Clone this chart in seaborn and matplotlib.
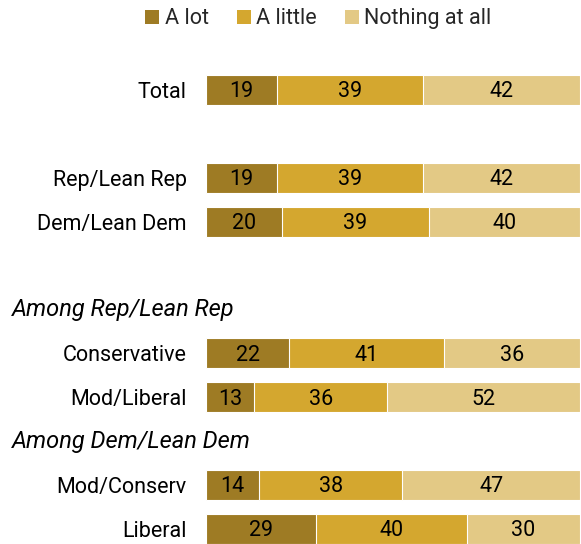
import pandas as pd
import matplotlib
matplotlib.use("Agg")
import matplotlib.pyplot as plt
import seaborn as sns
from matplotlib.patches import Patch
from matplotlib.transforms import blended_transform_factory

# Data
groups = ["Total", "Rep/Lean Rep", "Dem/Lean Dem", "Conservative", "Mod/Liberal",
          "Mod/Conserv", "Liberal"]
a_lot = [19, 19, 20, 22, 13, 14, 29]
a_little = [39, 39, 39, 41, 36, 38, 40]
nothing = [42, 42, 40, 36, 52, 47, 30]
series_names = ["A lot", "A little", "Nothing at all"]
colors = ["#9e7b24", "#d4a72f", "#e3c985"]

# row order with blank slots for spacing / subgroup headings
order = ["Total", " ", "Rep/Lean Rep", "Dem/Lean Dem", "  ", "   ",
         "Conservative", "Mod/Liberal", "    ", "Mod/Conserv", "Liberal"]
headings = {"   ": "Among Rep/Lean Rep", "    ": "Among Dem/Lean Dem"}

df = pd.DataFrame({"group": groups, "a_lot": a_lot, "a_little": a_little, "nothing": nothing})
# bars are drawn full width, so scale each row by its own total
tot = df["a_lot"] + df["a_little"] + df["nothing"]
df["c1"] = df["a_lot"] / tot * 100
df["c2"] = (df["a_lot"] + df["a_little"]) / tot * 100
df["c3"] = 100.0

sns.set_theme(style="white")
plt.rcParams["font.family"] = ["Roboto", "DejaVu Sans"]
FS = 15.5

fig = plt.figure(figsize=(5.81, 5.44), dpi=100)
ax = fig.add_axes([206 / 581, 0.0, 374 / 581, 1 - 68 / 544])

# stacked bars: draw cumulative totals from the largest down
for col, color in zip(["c3", "c2", "c1"], colors[::-1]):
    sns.barplot(data=df, x=col, y="group", order=order, orient="h", color=color,
                width=0.68, edgecolor="white", linewidth=0.8, saturation=1, ax=ax)

# value labels
pos = {g: i for i, g in enumerate(order)}
for _, r in df.iterrows():
    y = pos[r["group"]]
    edges = [0, r["c1"], r["c2"], r["c3"]]
    vals = [r["a_lot"], r["a_little"], r["nothing"]]
    for i, v in enumerate(vals):
        ax.text((edges[i] + edges[i + 1]) / 2, y + 0.04, str(v), ha="center", va="center",
                fontsize=FS, color="black")

ax.set_xlim(0, 100)
ax.set_ylim(10.34, -0.5)
ax.set_xlabel("")
ax.set_ylabel("")
ax.set_xticks([])
ax.set_yticks(range(len(order)))
ax.set_yticklabels([o if o.strip() else "" for o in order], fontsize=FS, color="black")
ax.tick_params(axis="y", length=0, pad=14)
sns.despine(ax=ax, left=True, bottom=True)

# subgroup headings
trans = blended_transform_factory(fig.transFigure, ax.transData)
for key, text in headings.items():
    ax.text(12 / 581, pos[key], text, transform=trans, ha="left", va="center",
            fontsize=17, style="italic", color="black")

handles = [Patch(facecolor=c, edgecolor="none") for c in colors]
fig.legend(handles, series_names, loc="upper center", bbox_to_anchor=(0.548, 1.02),
           ncol=3, frameon=False, fontsize=FS, handlelength=0.65, handleheight=0.65,
           handletextpad=0.25, columnspacing=1.3)

fig.savefig("out.png", dpi=100)
